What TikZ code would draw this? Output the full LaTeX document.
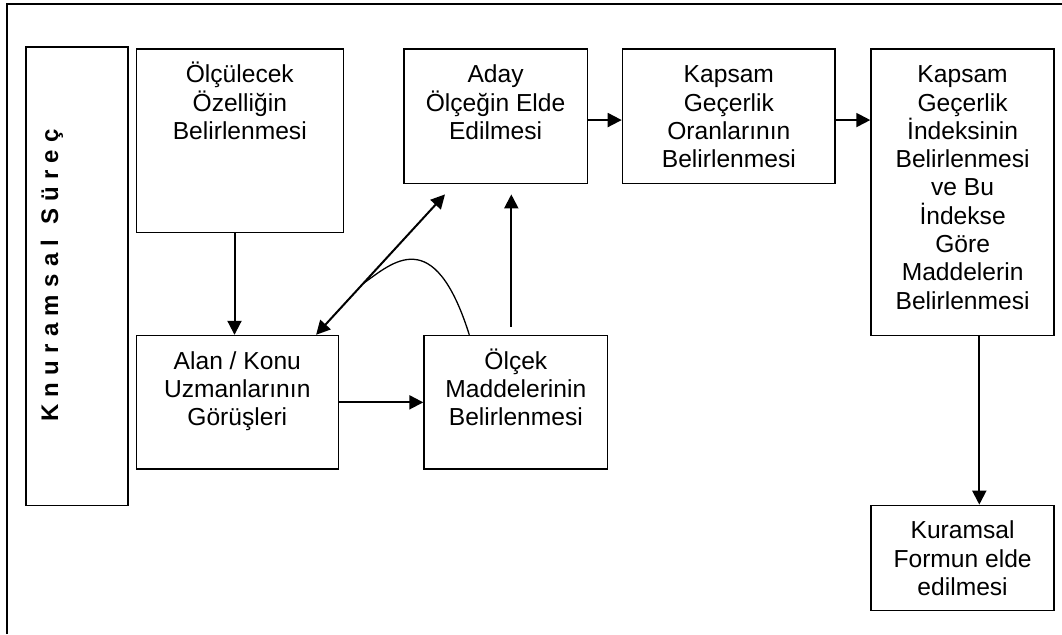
\documentclass[tikz,border=0pt]{standalone}
\usepackage{fontspec}
\setmainfont{Liberation Sans}
\usetikzlibrary{arrows.meta,calc}
% gap between the spaced-out letters of the side label
\newcommand\lsp{\hspace{7.3pt}}
\begin{document}
\begin{tikzpicture}[x=1pt,y=-1pt,
  box/.style={draw=black, line width=1.6pt, rectangle, inner sep=0pt, anchor=north west},
  txt/.style={align=center, inner sep=0pt, anchor=north, font=\fontsize{24.6}{28.3}\selectfont},
  arr/.style={line width=2pt, -{Triangle[length=14pt,width=14pt]}},
  side/.style={font=\bfseries\fontsize{24}{28}\selectfont, rotate=90, inner sep=0pt}]
\useasboundingbox (0,0) rectangle (1062,634);

% page frame (top and left edges)
\draw[line width=1.6pt] (7,634) -- (7,4) -- (1062,4);

% boxes
\node[box, minimum width=102pt,   minimum height=458pt]   (side) at (25,46.5) {};
\node[box, minimum width=207pt,   minimum height=183pt]   (oz)   at (135.5,48.5) {};
\node[box, minimum width=183.5pt, minimum height=134.3pt] (aday) at (403,48.5) {};
\node[box, minimum width=212.7pt, minimum height=134.3pt] (kgo)  at (621.7,48.5) {};
\node[box, minimum width=183pt,   minimum height=286.3pt] (kgi)  at (870.3,48.5) {};
\node[box, minimum width=202pt,   minimum height=133.5pt] (uzm)  at (135.5,334.8) {};
\node[box, minimum width=183.5pt, minimum height=133.5pt] (mad)  at (423.3,334.8) {};
\node[box, minimum width=183pt,   minimum height=105.2pt] (form) at (870.3,504.6) {};

% box texts, first baseline 34pt below the top edge
\node[txt] (oz-t)   at (oz.north)   {\rule{0pt}{34pt}Ölçülecek\\Özelliğin\\Belirlenmesi};
\node[txt] (aday-t) at (aday.north) {\rule{0pt}{34pt}Aday\\Ölçeğin Elde\\Edilmesi};
\node[txt] (kgo-t)  at (kgo.north)  {\rule{0pt}{34pt}Kapsam\\Geçerlik\\Oranlarının\\Belirlenmesi};
\node[txt] (kgi-t)  at (kgi.north)  {\rule{0pt}{34pt}Kapsam\\Geçerlik\\İndeksinin\\Belirlenmesi\\ve Bu\\İndekse\\Göre\\Maddelerin\\Belirlenmesi};
\node[txt] (uzm-t)  at (uzm.north)  {\rule{0pt}{34pt}Alan / Konu\\Uzmanlarının\\Görüşleri};
\node[txt] (mad-t)  at (mad.north)  {\rule{0pt}{34pt}Ölçek\\Maddelerinin\\Belirlenmesi};
\node[txt] (form-t) at (form.north) {\rule{0pt}{34pt}Kuramsal\\Formun elde\\edilmesi};

% vertical side label
\node[side] (side-t) at ($(side.north west)+(27,229)$)
  {K\lsp n\lsp u\lsp r\lsp a\lsp m\lsp s\lsp a\lsp l\hspace{14.6pt}S\lsp ü\lsp r\lsp e\lsp ç};

% connector end points
\coordinate (a1) at ($(oz.south west)+(99,0)$);
\coordinate (a5) at ($(kgi.south west)+(109,0)$);
\coordinate (a6s) at ($(mad.north west)+(88,-8)$);
\coordinate (a6e) at ($(aday.south west)+(108.3,10)$);
\coordinate (d1) at ($(uzm.north east)+(-23,0)$);
\coordinate (d2) at ($(aday.south west)+(42,10)$);

% connectors
\draw[arr] (a1) -- (a1 |- uzm.north);
\draw[arr] (uzm.east) -- (mad.west);
\draw[arr] (a6s) -- (a6e);
\draw[arr] ($(aday.east)+(0,3.6)$) -- ($(kgo.west)+(0,3.6)$);
\draw[arr] ($(kgo.east)+(0,3.6)$) -- ($(kgi.west |- kgo.east)+(0,3.6)$);
\draw[arr] (a5) -- (a5 |- form.north);
\draw[line width=2pt, {Triangle[length=14pt,width=14pt]}-{Triangle[length=14pt,width=14pt]}]
  (d1) -- coordinate[pos=0.366] (j) (d2);
\draw[line width=1.3pt] (j) .. controls ($(j)+(28.7,-20)$) and ($(mad.north west)+(10.4,-112.8)$) .. ($(mad.north west)+(46,0)$);
\end{tikzpicture}
\end{document}
